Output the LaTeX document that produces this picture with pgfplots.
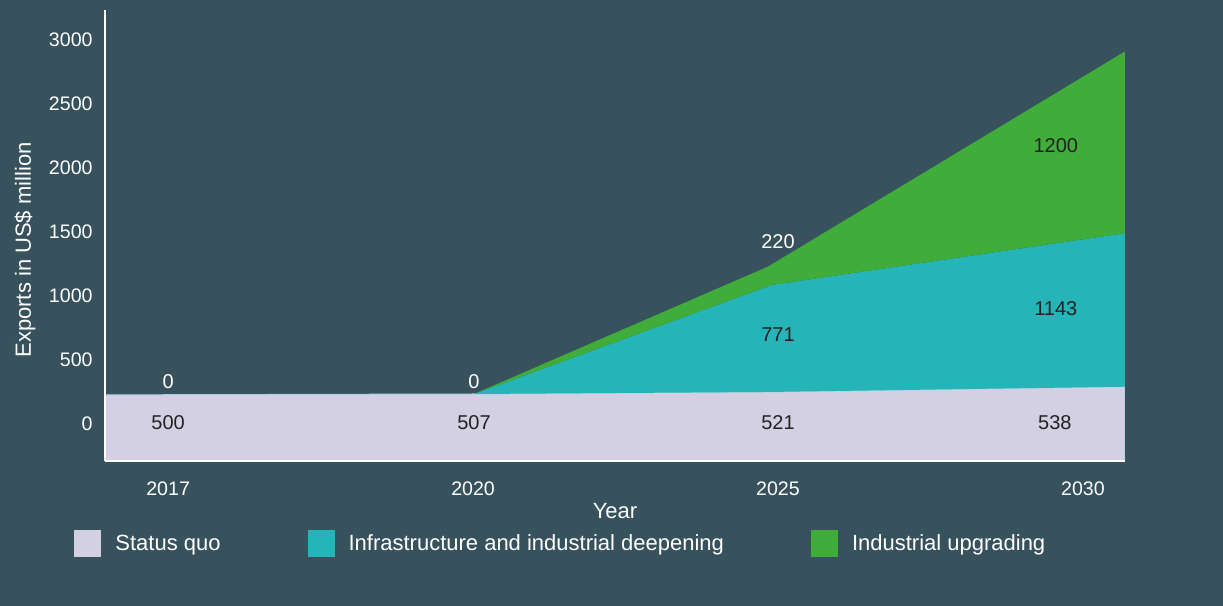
\documentclass[border=0pt]{standalone}
\usepackage{pgfplots}
\pgfplotsset{compat=1.18}
\usepackage{fontspec}
\setmainfont{Liberation Sans}
\definecolor{bg}{RGB}{55,81,93}
\definecolor{sq}{RGB}{211,208,227}
\definecolor{infra}{RGB}{37,180,183}
\definecolor{upg}{RGB}{64,172,58}
\definecolor{lbl}{RGB}{34,34,34}
\definecolor{edge}{RGB}{165,212,222}
\begin{document}
\begin{tikzpicture}
\fill[bg] (-52.5pt,-72.5pt) rectangle (559pt,230.5pt);
\begin{axis}[
  at={(0,0)}, anchor=south west,
  scale only axis, width=510pt, height=225.5pt,
  xmin=-0.207, xmax=3.138, ymin=-295, ymax=3232,
  axis x line=bottom, axis y line=left,
  axis line style={white, line width=0.6pt, -},
  axis on top,
  xtick={0,1,2,3}, xticklabels={2017,2020,2025,2030},
  ytick={0,500,...,3000},
  major tick length=0,
  tick label style={text=white, font=\fontsize{9.8}{11}\selectfont, inner sep=0pt},
  xticklabel style={anchor=center, yshift=-14pt},
  yticklabel style={anchor=east, xshift=-6pt},
  /pgf/number format/assume math mode=true,
  /pgf/number format/1000 sep={},
  xlabel={Year}, ylabel={Exports in US\$ million},
  label style={text=white, font=\fontsize{11}{13}\selectfont},
  xlabel style={at={(axis description cs:0.5,-0.111)}, anchor=center},
  ylabel style={at={(axis description cs:-0.0784,0.468)}, anchor=center},
  legend columns=3,
  legend style={at={(axis description cs:-0.0304,-0.184)}, anchor=west,
    draw=none, fill=none, inner sep=0pt, text=white,
    font=\fontsize{11}{13}\selectfont,
    /tikz/every odd column/.append style={column sep=5pt},
    /tikz/every even column/.append style={column sep=41.5pt}},
  legend image code/.code={\fill[#1,draw=none] (0pt,-6.75pt) rectangle (13.5pt,6.75pt);},
]
\addplot[fill=sq, draw=edge, line width=0.5pt] coordinates {(-0.207,-295) (-0.207,222) (1.003,229) (1.975,245) (3.138,286) (3.138,-295)};
\addplot[fill=infra, draw=none] coordinates {(1.003,229) (1.979,1082) (3.138,1487) (3.138,286) (1.975,245)};
\addplot[fill=upg, draw=none] coordinates {(1.003,229) (1.967,1225) (3.138,2908) (3.138,1487) (1.979,1082)};
\legend{Status quo, Infrastructure and industrial deepening, Industrial upgrading}
\begin{scope}[every node/.style={font=\fontsize{10}{12}\selectfont}]
\node[text=white] at (axis cs:0,323) {0};
\node[text=lbl] at (axis cs:0,2) {500};
\node[text=white] at (axis cs:1.003,323) {0};
\node[text=lbl] at (axis cs:1.003,2) {507};
\node[text=white] at (axis cs:2,1418) {220};
\node[text=lbl] at (axis cs:2,690) {771};
\node[text=lbl] at (axis cs:2,2) {521};
\node[text=lbl] at (axis cs:2.911,2169) {1200};
\node[text=lbl] at (axis cs:2.911,894) {1143};
\node[text=lbl] at (axis cs:2.908,2) {538};
\end{scope}
\end{axis}
\pgfresetboundingbox
\path[use as bounding box] (-52.5pt,-72.5pt) rectangle (559pt,230.5pt);
\end{tikzpicture}
\end{document}
